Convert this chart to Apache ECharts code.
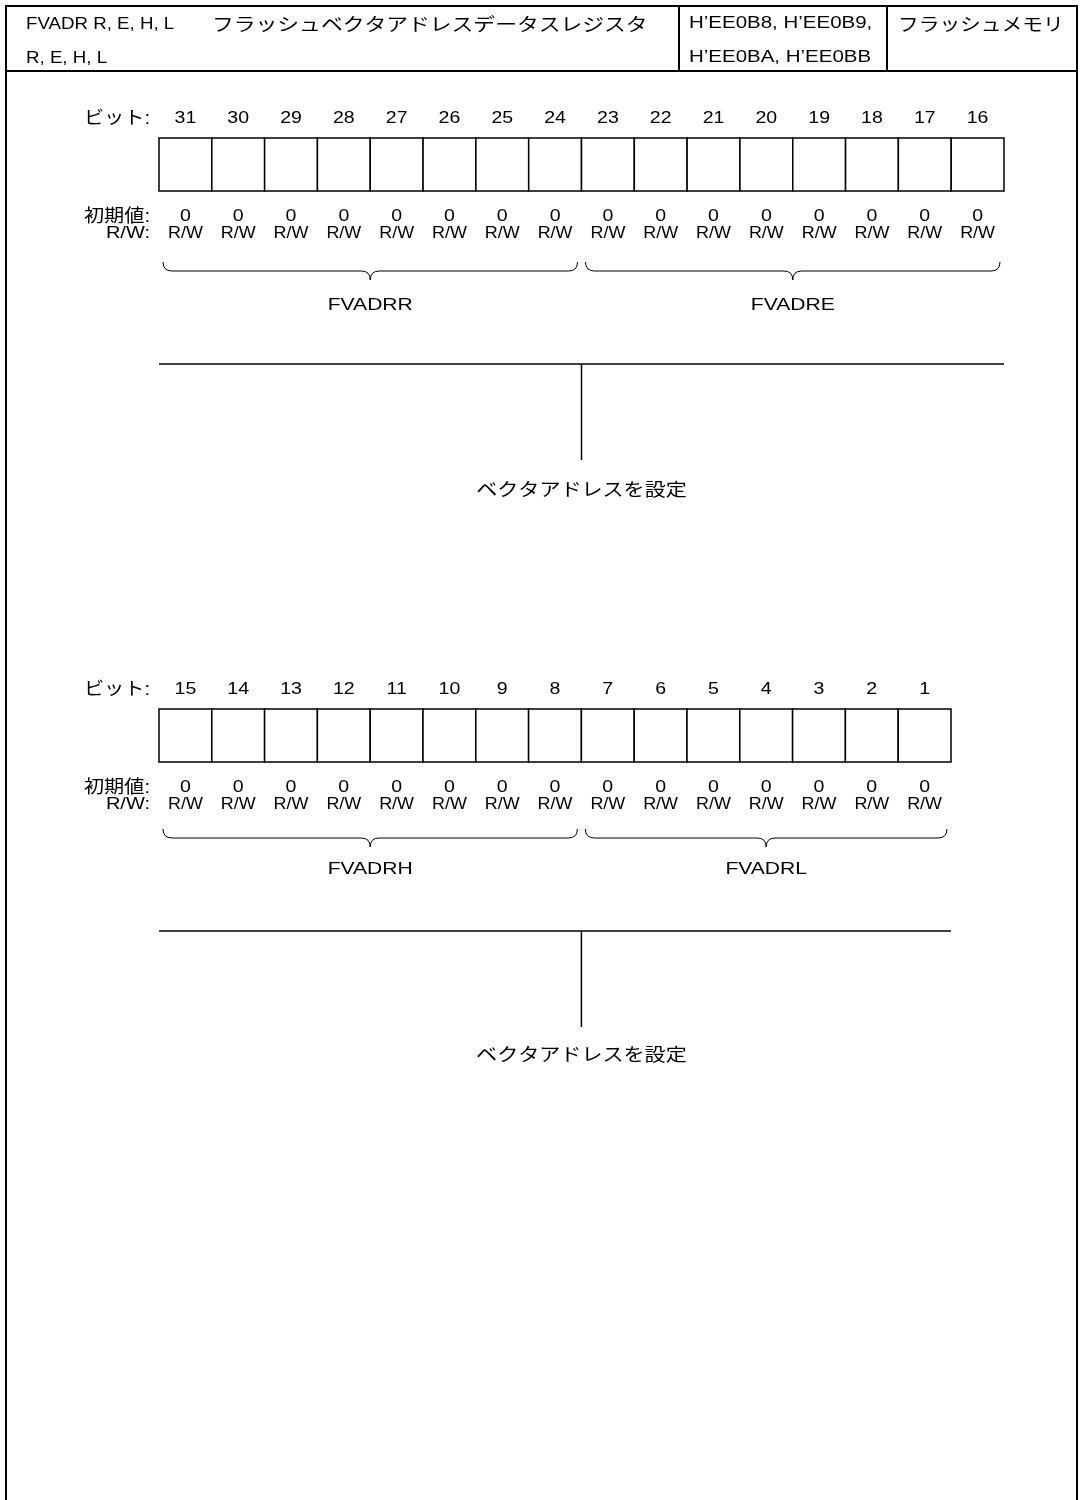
<!DOCTYPE html>
<html><head><meta charset="utf-8">
<script src="https://cdn.jsdelivr.net/npm/echarts@6/dist/echarts.min.js"></script>
<style>html,body{margin:0;padding:0;background:#fff}#c{width:1081px;height:1500px}</style>
</head><body><div id="c"></div>
<script>
// ---- texts ----
const headerTitle = 'FVADR R, E, H, L';
const headerTitleJa = 'フラッシュベクタアドレスデータスレジスタ';
const headerTitle2 = 'R, E, H, L';
const headerAddr1 = 'H’EE0B8, H’EE0B9,';
const headerAddr2 = 'H’EE0BA, H’EE0BB';
const headerModule = 'フラッシュメモリ';
const rowLabels = ['ビット:', '初期値:', 'R/W:'];

// ---- upper register (bits 31..16) ----
const bitsHigh = ['31','30','29','28','27','26','25','24','23','22','21','20','19','18','17','16'];
const initHigh = [0,0,0,0,0,0,0,0,0,0,0,0,0,0,0,0];
const rwHigh = ['R/W','R/W','R/W','R/W','R/W','R/W','R/W','R/W','R/W','R/W','R/W','R/W','R/W','R/W','R/W','R/W'];
const fieldNamesHigh = ['FVADRR', 'FVADRE'];
const fieldSpansHigh = [[0, 7], [8, 15]];
const descHigh = 'ベクタアドレスを設定';

// ---- lower register (bits 15..1) ----
const bitsLow = ['15','14','13','12','11','10','9','8','7','6','5','4','3','2','1'];
const initLow = [0,0,0,0,0,0,0,0,0,0,0,0,0,0,0];
const rwLow = ['R/W','R/W','R/W','R/W','R/W','R/W','R/W','R/W','R/W','R/W','R/W','R/W','R/W','R/W','R/W'];
const fieldNamesLow = ['FVADRH', 'FVADRL'];
const fieldSpansLow = [[0, 7], [8, 14]];
const descLow = 'ベクタアドレスを設定';

const LAT = "'Liberation Sans', Arial, 'Noto Sans CJK JP', sans-serif";
const JA = "'Noto Sans CJK JP', sans-serif";
const INK = '#000';

function txt(x, y, text, opt, sx) {
  opt = opt || {};
  return {type: 'text', silent: true, x: x, y: y, scaleX: sx || 1, style: Object.assign({
    x: 0, y: 0, text: text, fill: INK, fontSize: 16, fontFamily: LAT,
    textAlign: 'left', textVerticalAlign: 'middle'
  }, opt)};
}

function cellsRender(bits, init, rw) {
  return function (params, api) {
    const i = api.value(0);
    const top = api.coord([i, 1]);
    const bot = api.coord([i, 0]);
    const w = api.size([1, 0])[0];
    const x = top[0] - w / 2;
    const ch = [
      {type: 'rect', shape: {x: x, y: top[1], width: w, height: bot[1] - top[1]},
       style: {fill: '#fff', stroke: INK, lineWidth: 1.5}},
      txt(top[0], top[1] - 19, bits[i], {textAlign: 'center'}, 1.22),
      txt(top[0], bot[1] + 26, String(init[i]), {textAlign: 'center'}, 1.22),
      txt(top[0], bot[1] + 43, rw[i], {textAlign: 'center', fontSize: 16}, 1.12)
    ];
    if (i === 0) {
      ch.push(txt(x - 9, top[1] - 19, rowLabels[0], {textAlign: 'right', fontSize: 18}, 1.12));
      ch.push(txt(x - 9, bot[1] + 26, rowLabels[1], {textAlign: 'right', fontSize: 18}, 1.12));
      ch.push(txt(x - 9, bot[1] + 43, rowLabels[2], {textAlign: 'right', fontSize: 16}, 1.25));
    }
    return {type: 'group', children: ch};
  };
}

function braceRender(names, dy) {
  return function (params, api) {
    const a = api.value(0), b = api.value(1);
    const w = api.size([1, 0])[0];
    const bot = api.coord([a, 0])[1];
    const x0 = api.coord([a, 0])[0] - w / 2 + 4;
    const x1 = api.coord([b, 0])[0] + w / 2 - 4;
    const xc = (x0 + x1) / 2;
    const yT = bot + 71 + dy, yM = bot + 80 + dy, yP = bot + 89 + dy;
    const d = 'M' + x0 + ' ' + yT + ' Q' + x0 + ' ' + yM + ' ' + (x0 + 9) + ' ' + yM +
      ' L' + (xc - 9) + ' ' + yM + ' Q' + xc + ' ' + yM + ' ' + xc + ' ' + yP +
      ' Q' + xc + ' ' + yM + ' ' + (xc + 9) + ' ' + yM +
      ' L' + (x1 - 9) + ' ' + yM + ' Q' + x1 + ' ' + yM + ' ' + x1 + ' ' + yT;
    return {type: 'group', children: [
      {type: 'path', shape: {pathData: d}, style: {fill: null, stroke: INK, lineWidth: 1}},
      txt(xc, bot + 114 + dy * 1.6, names[params.dataIndex], {textAlign: 'center', fontSize: 17}, 1.24)
    ]};
  };
}

function connRender(desc, dy) {
  return function (params, api) {
    const a = api.value(0), b = api.value(1), s = api.value(2);
    const w = api.size([1, 0])[0];
    const bot = api.coord([a, 0])[1];
    const x0 = api.coord([a, 0])[0] - w / 2;
    const x1 = api.coord([b, 0])[0] + w / 2;
    const xs = api.coord([s, 0])[0] - w / 2;
    const yL = bot + 173 + dy, yV = bot + 269 + dy;
    return {type: 'group', children: [
      {type: 'line', shape: {x1: x0, y1: yL, x2: x1, y2: yL}, style: {stroke: INK, lineWidth: 1.5}},
      {type: 'line', shape: {x1: xs, y1: yL, x2: xs, y2: yV}, style: {stroke: INK, lineWidth: 1.5}},
      txt(xs, bot + 298 + dy * 1.4, desc, {textAlign: 'center', fontSize: 18, fontFamily: JA}, 1.17)
    ]};
  };
}

function axisX(idx, bits) {
  return {gridIndex: idx, type: 'category', data: bits, position: 'top',
    axisLine: {show: false}, axisTick: {show: false}, splitLine: {show: false},
    axisLabel: {show: false}};
}
function axisY(idx) {
  return {gridIndex: idx, type: 'value', min: 0, max: 1, show: false};
}

const option = {
  backgroundColor: '#fff',
  animation: false,
  grid: [
    {left: 159, top: 138, width: 845, height: 53},
    {left: 159, top: 709, width: 792, height: 53}
  ],
  xAxis: [axisX(0, bitsHigh), axisX(1, bitsLow)],
  yAxis: [axisY(0), axisY(1)],
  series: [
    {type: 'custom', xAxisIndex: 0, yAxisIndex: 0, renderItem: cellsRender(bitsHigh, initHigh, rwHigh),
     data: bitsHigh.map((b, i) => [i, initHigh[i]])},
    {type: 'custom', xAxisIndex: 0, yAxisIndex: 0, renderItem: braceRender(fieldNamesHigh, 0),
     data: fieldSpansHigh},
    {type: 'custom', xAxisIndex: 0, yAxisIndex: 0, renderItem: connRender(descHigh, 0),
     data: [[0, bitsHigh.length - 1, fieldSpansHigh[1][0]]]},
    {type: 'custom', xAxisIndex: 1, yAxisIndex: 1, renderItem: cellsRender(bitsLow, initLow, rwLow),
     data: bitsLow.map((b, i) => [i, initLow[i]])},
    {type: 'custom', xAxisIndex: 1, yAxisIndex: 1, renderItem: braceRender(fieldNamesLow, -4),
     data: fieldSpansLow},
    {type: 'custom', xAxisIndex: 1, yAxisIndex: 1, renderItem: connRender(descLow, -4),
     data: [[0, bitsLow.length - 1, fieldSpansLow[1][0]]]}
  ],
  graphic: [
    // outer frame and header table
    {type: 'polyline', silent: true, shape: {points: [[6, 1500], [6, 6], [1077, 6], [1077, 1500]]},
     style: {fill: null, stroke: INK, lineWidth: 2}},
    {type: 'line', silent: true, shape: {x1: 6, y1: 71, x2: 1077, y2: 71}, style: {stroke: INK, lineWidth: 2}},
    {type: 'line', silent: true, shape: {x1: 679, y1: 6, x2: 679, y2: 71}, style: {stroke: INK, lineWidth: 2}},
    {type: 'line', silent: true, shape: {x1: 887, y1: 6, x2: 887, y2: 71}, style: {stroke: INK, lineWidth: 2}},
    txt(26, 24, headerTitle, {fontSize: 17}, 1.1),
    txt(212, 24, headerTitleJa, {fontFamily: JA, fontSize: 18}, 1.21),
    txt(26, 58, headerTitle2, {fontSize: 17}, 1.1),
    txt(689, 24, headerAddr1, {}, 1.28),
    txt(689, 58, headerAddr2, {}, 1.28),
    txt(898, 24, headerModule, {fontFamily: JA, fontSize: 18}, 1.15)
  ]
};

const chart = echarts.init(document.getElementById('c'), null, {renderer: 'canvas'});
chart.setOption(option);
</script>
</body></html>
